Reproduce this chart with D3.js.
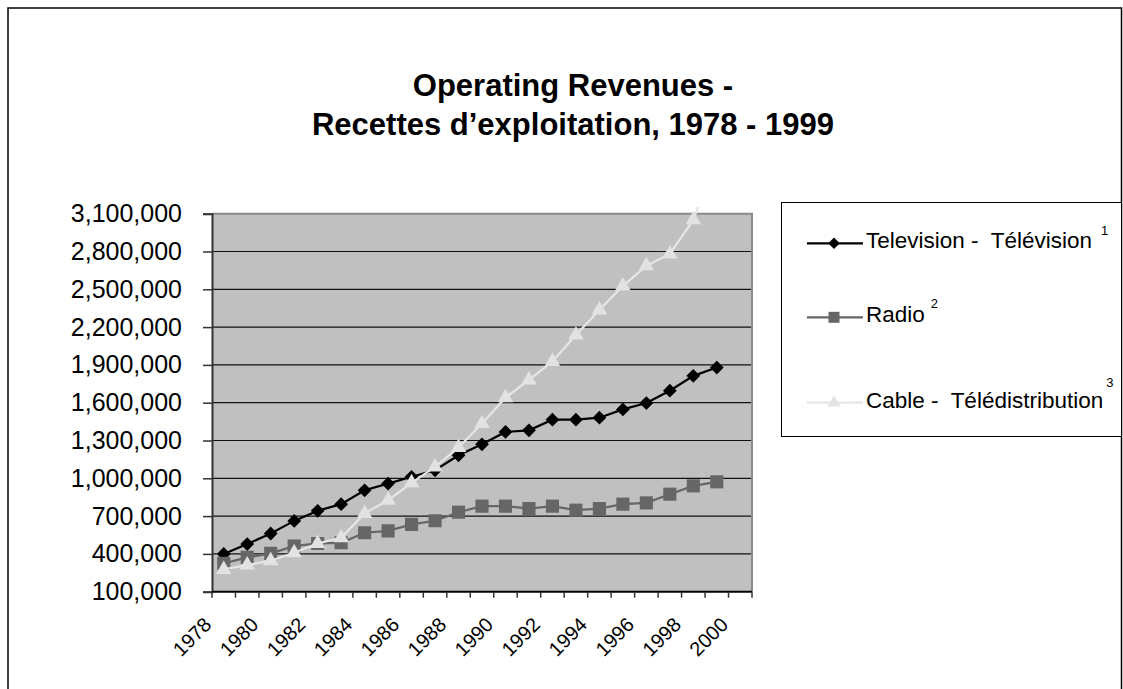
<!DOCTYPE html>
<html>
<head>
<meta charset="utf-8">
<script src="https://cdn.jsdelivr.net/npm/d3@7"></script>
<style>
  body { margin: 0; background: #fff; }
  svg { display: block; font-family: "Liberation Sans", Arial, sans-serif; }
</style>
</head>
<body>
<svg id="chart" width="1123" height="689"></svg>
<script>

// categories on the x axis (one band per year, 1978 - 2000)
var years = d3.range(1978, 2001);

// series values (2000 has no data)
var television = [400000, 478000, 562000, 662000, 742000, 795000, 905000, 958000, 1012000, 1064000, 1183000, 1270000,
	1368000, 1381000, 1465000, 1465000, 1481000, 1547000, 1597000, 1695000, 1813000, 1879000, null];
var radio = [325000, 372000, 404000, 462000, 483000, 488000, 568000, 583000, 634000, 663000, 731000, 779000,
	779000, 760000, 779000, 747000, 760000, 795000, 805000, 874000, 940000, 972000, null];
var cable = [277000, 311000, 346000, 409000, 483000, 528000, 721000, 826000, 964000, 1090000, 1244000, 1434000,
	1640000, 1781000, 1927000, 2138000, 2336000, 2527000, 2686000, 2781000, 3051000, 3550000, null];

var yTicks = d3.range(100000, 3100001, 300000);
var xLabels = years.filter(function(d, i){ return i % 2 === 0 });

var seriesNames = ['Television -  Télévision', 'Radio', 'Cable -  Télédistribution'];
var seriesNotes = ['1', '2', '3'];

var titleLines = ['Operating Revenues -', 'Recettes d\u2019exploitation, 1978 - 1999'];


var series = [
	{ name: seriesNames[0], note: seriesNotes[0], values: television, color: '#000000', fill: '#000000', symbol: d3.symbolSquare, size: 95, rot: 45, noteDx: 9, noteDy: -13 },
	{ name: seriesNames[1], note: seriesNotes[1], values: radio, color: '#666666', fill: '#666666', symbol: d3.symbolSquare, size: 172, rot: 0, noteDx: 6, noteDy: -14 },
	{ name: seriesNames[2], note: seriesNotes[2], values: cable, color: '#e6e6e6', fill: '#e2e2e2', symbol: d3.symbolTriangle, size: 105, rot: 0, noteDx: 3, noteDy: -21 }
];

var svg = d3.select('#chart');

// chart area + border
svg.append('rect')
	.attr('x', 8).attr('y', 8)
	.attr('width', 1113.5).attr('height', 900)
	.style('fill', '#fff')
	.style('stroke', '#000')
	.style('stroke-width', 1.5);

// title
svg.append('text')
	.attr('x', 573)
	.attr('text-anchor', 'middle')
	.style('font-weight', 'bold')
	.style('font-size', '31px')
	.selectAll('tspan')
	.data(titleLines)
	.enter()
	.append('tspan')
		.attr('x', 573)
		.attr('y', function(d, i){ return 96 + i*39 })
		.text(function(d){ return d });

var plotLeft = 212, plotRight = 752, plotTop = 213.7, plotBottom = 591.7;

var x = d3.scaleBand().domain(years).range([plotLeft, plotRight]).padding(0);
var y = d3.scaleLinear().domain([100000, 3100000]).range([plotBottom, plotTop]);

function cx(d){ return x(d) + x.bandwidth()/2 }

// plot area
svg.append('rect')
	.attr('x', plotLeft).attr('y', plotTop)
	.attr('width', plotRight - plotLeft).attr('height', plotBottom - plotTop)
	.style('fill', '#c0c0c0');

// gridlines
svg.append('g')
	.selectAll('line')
	.data(yTicks.slice(1, -1))
	.enter()
	.append('line')
		.attr('x1', plotLeft).attr('x2', plotRight)
		.attr('y1', function(d){ return y(d) }).attr('y2', function(d){ return y(d) })
		.style('stroke', '#111')
		.style('stroke-width', 1.2);

// plot border top / right
svg.append('path')
	.attr('d', 'M' + plotLeft + ',' + plotTop + 'H' + plotRight + 'V' + plotBottom)
	.style('fill', 'none')
	.style('stroke', '#8a8a8a')
	.style('stroke-width', 2);

// y axis
var yAxis = svg.append('g')
	.attr('transform', 'translate(' + plotLeft + ',0)')
	.call(d3.axisLeft(y).tickValues(yTicks).tickFormat(d3.format(',')).tickSize(9).tickPadding(21));
yAxis.select('.domain').style('stroke', '#333').style('stroke-width', 2);
yAxis.selectAll('.tick line').style('stroke', '#333').style('stroke-width', 1.5);
yAxis.selectAll('text')
	.style('font-size', '25px')
	.style('font-family', '"Liberation Sans", Arial, sans-serif')
	.style('fill', '#000');

// x axis: ticks between categories
var xBounds = years.map(function(d){ return x(d) }).concat([plotRight]);
var xAxis = svg.append('g');
xAxis.append('line')
	.attr('x1', plotLeft).attr('x2', plotRight)
	.attr('y1', plotBottom).attr('y2', plotBottom)
	.style('stroke', '#000').style('stroke-width', 2);
xAxis.selectAll('.xtick')
	.data(xBounds)
	.enter()
	.append('line')
		.attr('class', 'xtick')
		.attr('x1', function(d){ return d }).attr('x2', function(d){ return d })
		.attr('y1', plotBottom).attr('y2', plotBottom + 6)
		.style('stroke', '#333').style('stroke-width', 1.5);
xAxis.selectAll('text')
	.data(xLabels)
	.enter()
	.append('text')
		.attr('text-anchor', 'end')
		.attr('transform', function(d){ return 'translate(' + (cx(d) - 11) + ',626) rotate(-45)' })
		.style('font-size', '20px')
		.text(function(d){ return d });

// series
svg.append('clipPath')
	.attr('id', 'plotclip')
	.append('rect')
		.attr('x', plotLeft).attr('y', plotTop - 7)
		.attr('width', plotRight - plotLeft).attr('height', plotBottom - plotTop + 7);

var plot = svg.append('g').attr('clip-path', 'url(#plotclip)');

series.forEach(function(s){
	var pts = years.map(function(d, i){ return { year: d, value: s.values[i] } })
		.filter(function(p){ return p.value !== null });

	var line = d3.line()
		.x(function(p){ return cx(p.year) })
		.y(function(p){ return y(p.value) });

	plot.append('path')
		.datum(pts)
		.attr('d', line)
		.style('fill', 'none')
		.style('stroke', s.color)
		.style('stroke-width', 2.2);

	plot.selectAll(null)
		.data(pts)
		.enter()
		.append('path')
			.attr('d', d3.symbol().type(s.symbol).size(s.size))
			.attr('transform', function(p){
				return 'translate(' + cx(p.year) + ',' + y(p.value) + ') rotate(' + s.rot + ')';
			})
			.style('fill', s.fill);
});

// legend
svg.append('rect')
	.attr('x', 781.5).attr('y', 202.5)
	.attr('width', 340).attr('height', 234)
	.style('fill', '#fff')
	.style('stroke', '#000')
	.style('stroke-width', 1);

var legendY = [243.3, 317.3, 402.7];

var entry = svg.selectAll('.legend')
	.data(series)
	.enter()
	.append('g')
		.attr('class', 'legend')
		.attr('transform', function(d, i){ return 'translate(0,' + legendY[i] + ')' });

entry.append('line')
	.attr('x1', 807).attr('x2', 863)
	.style('stroke', function(d){ return d.color })
	.style('stroke-width', 2.2);

entry.append('path')
	.attr('d', function(d){ return d3.symbol().type(d.symbol).size(d.size * 0.7)() })
	.attr('transform', function(d){ return 'translate(834,0) rotate(' + d.rot + ')' })
	.style('fill', function(d){ return d.fill });

var label = entry.append('text')
	.attr('x', 866)
	.attr('y', 5)
	.style('font-size', '22.5px')
	.style('white-space', 'pre');
label.append('tspan').text(function(d){ return d.name });
label.append('tspan')
	.attr('dx', function(d){ return d.noteDx })
	.attr('dy', function(d){ return d.noteDy })
	.style('font-size', '13px')
	.text(function(d){ return d.note });

</script>
</body>
</html>
